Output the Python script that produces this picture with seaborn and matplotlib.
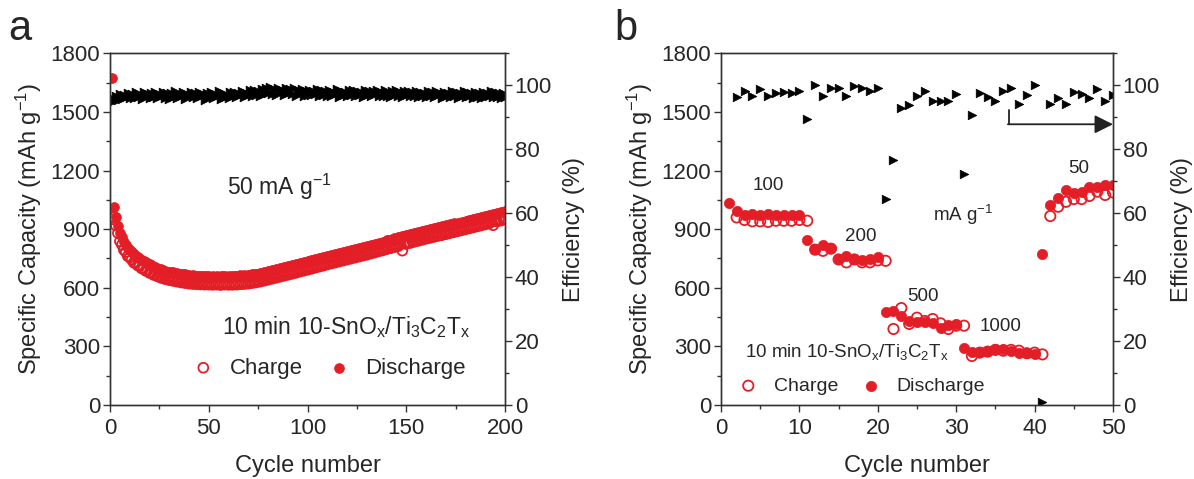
import numpy as np
import pandas as pd
import matplotlib
matplotlib.use("Agg")
import matplotlib.pyplot as plt
from matplotlib.ticker import MultipleLocator
import seaborn as sns

sns.set_style("ticks")
plt.rcParams['font.family'] = ['Liberation Sans', 'DejaVu Sans']
plt.rcParams['mathtext.fontset'] = 'custom'
plt.rcParams['mathtext.rm'] = 'Liberation Sans'
plt.rcParams['mathtext.it'] = 'Liberation Sans'

RED = "#E41E26"

# ---------------- Panel a data (cycles 1..200) ----------------
cycles_a = list(range(1, 201))
discharge_a = [
    1672, 1012, 962, 918, 881, 858, 836, 821, 804, 793,
    781, 774, 763, 758, 748, 743, 735, 731, 723, 720,
    713, 710, 704, 702, 696, 694, 689, 688, 683, 683,
    679, 679, 675, 675, 671, 671, 668, 668, 665, 665,
    662, 664, 660, 662, 659, 661, 658, 660, 658, 661,
    657, 660, 657, 661, 656, 660, 658, 662, 657, 660,
    657, 661, 658, 662, 659, 663, 661, 664, 662, 666,
    665, 669, 668, 672, 671, 676, 676, 681, 681, 686,
    686, 691, 691, 696, 696, 701, 701, 706, 706, 711,
    711, 716, 716, 721, 721, 727, 726, 732, 731, 737,
    737, 742, 742, 748, 747, 753, 753, 758, 758, 764,
    763, 769, 768, 774, 773, 779, 778, 784, 783, 789,
    788, 794, 793, 799, 798, 804, 803, 809, 808, 814,
    814, 820, 819, 825, 825, 831, 831, 836, 836, 842,
    842, 847, 847, 853, 852, 858, 858, 863, 863, 869,
    869, 874, 874, 880, 879, 885, 885, 890, 890, 896,
    895, 900, 900, 905, 904, 910, 909, 914, 914, 919,
    918, 924, 923, 929, 928, 934, 933, 939, 938, 944,
    943, 949, 948, 954, 953, 959, 958, 964, 963, 969,
    968, 974, 973, 979, 978, 984, 983, 989, 988, 994,
]
charge_a = [
    950, 962, 918, 880, 838, 820, 794, 783, 762, 755,
    744, 729, 727, 714, 712, 699, 699, 687, 688, 676,
    677, 666, 668, 658, 660, 650, 653, 644, 647, 639,
    643, 635, 639, 631, 635, 627, 632, 624, 629, 621,
    626, 619, 624, 618, 623, 617, 622, 616, 622, 616,
    621, 615, 622, 616, 620, 614, 621, 616, 620, 615,
    621, 615, 622, 616, 623, 618, 625, 619, 626, 621,
    629, 624, 632, 627, 635, 631, 640, 636, 645, 641,
    650, 646, 655, 651, 660, 656, 665, 661, 670, 666,
    675, 671, 680, 676, 685, 682, 690, 687, 695, 692,
    701, 697, 706, 703, 711, 708, 717, 713, 722, 719,
    727, 724, 732, 729, 737, 734, 742, 739, 747, 744,
    752, 749, 757, 754, 762, 759, 767, 764, 772, 769,
    778, 775, 783, 780, 789, 786, 795, 791, 800, 797,
    806, 802, 811, 808, 816, 813, 822, 790, 827, 824,
    833, 829, 838, 835, 843, 840, 849, 845, 854, 851,
    859, 855, 864, 860, 868, 865, 873, 869, 878, 874,
    882, 879, 887, 884, 892, 889, 897, 894, 902, 899,
    907, 904, 912, 909, 917, 914, 922, 919, 927, 924,
    932, 929, 937, 920, 942, 939, 947, 944, 952, 949,
]
efficiency_a = [
    94.8, 95.6, 96.8, 95.4, 97.2, 95.8, 97.0, 96.2, 97.6, 96.0,
    97.4, 95.9, 97.8, 96.3, 97.1, 95.7, 97.9, 96.5, 97.3, 96.0,
    97.7, 96.4, 98.0, 95.9, 97.2, 96.6, 97.8, 96.1, 97.5, 95.8,
    97.6, 96.3, 98.1, 96.0, 97.4, 96.8, 97.9, 95.6, 97.3, 96.5,
    97.8, 96.2, 97.5, 95.9, 98.0, 96.6, 97.2, 95.5, 97.7, 96.4,
    97.9, 96.1, 97.4, 96.7, 98.2, 95.8, 97.6, 96.3, 97.1, 96.0,
    97.8, 96.5, 98.0, 96.2, 97.5, 96.9, 98.3, 96.4, 97.7, 97.0,
    98.4, 96.8, 98.6, 97.1, 98.2, 96.5, 98.9, 97.3, 99.1, 97.6,
    99.4, 97.4, 98.8, 97.0, 99.2, 97.8, 98.6, 96.9, 99.0, 97.5,
    98.7, 97.2, 99.1, 96.8, 98.5, 97.6, 98.9, 96.7, 98.3, 97.1,
    98.6, 96.9, 98.2, 97.3, 98.8, 96.5, 98.4, 97.0, 98.1, 96.6,
    98.5, 96.8, 98.0, 97.2, 98.7, 96.4, 98.3, 96.9, 97.9, 96.7,
    98.4, 97.1, 98.6, 96.6, 98.2, 97.0, 97.8, 96.3, 98.5, 96.9,
    98.1, 96.7, 98.3, 97.2, 98.6, 96.5, 98.0, 96.8, 98.4, 96.6,
    97.9, 96.4, 98.2, 97.0, 98.5, 96.7, 97.8, 96.2, 98.1, 96.9,
    98.3, 96.5, 97.9, 96.8, 98.2, 96.3, 98.0, 96.7, 97.7, 96.4,
    98.1, 96.6, 97.8, 96.2, 98.3, 96.9, 97.6, 96.1, 98.0, 96.5,
    97.7, 96.3, 98.1, 96.7, 97.9, 96.0, 97.6, 96.5, 98.2, 96.2,
    97.8, 96.6, 97.5, 96.1, 98.0, 96.4, 97.7, 96.0, 97.9, 96.3,
    97.6, 96.5, 98.1, 96.2, 97.8, 96.4, 97.5, 96.0, 97.7, 96.3,
]

# ---------------- Panel b data (cycles 1..50) ----------------
cycles_b = list(range(1, 51))
discharge_b = [
    1035, 994, 974, 979, 971, 976, 974, 974, 974, 974,
    844, 798, 819, 803, 747, 762, 747, 742, 747, 756,
    476, 483, 457, 430, 426, 423, 418, 392, 409, 413,
    293, 273, 273, 278, 285, 285, 278, 265, 265, 259,
    773, 1024, 1058, 1100, 1083, 1088, 1117, 1117, 1126, 1126,
]
charge_b = [
    np.nan, 960, 947, 940, 940, 937, 943, 943, 943, 947,
    943, 795, 789, 800, 745, 730, 745, 730, 730, 740,
    738, 389, 496, 415, 447, 430, 440, 418, 389, 406,
    406, 251, 268, 273, 282, 278, 282, 278, 265, 268,
    259, 967, 1015, 1040, 1054, 1054, 1070, 1092, 1075, 1088,
]
efficiency_b = [
    np.nan, 96.2, 98.3, 96.5, 98.7, 96.7, 97.6, 97.9, 97.5, 98.3,
    89.5, 100.0, 96.5, 99.2, 99.2, 96.8, 99.7, 99.0, 98.1, 99.0,
    64.5, 76.7, 92.9, 93.7, 96.6, 98.3, 95.0, 95.0, 95.0, 97.3,
    72.3, 90.8, 97.6, 96.2, 95.0, 98.3, 99.2, 94.0, 96.9, 100.0,
    1.0, 94.2, 96.0, 94.2, 97.9, 97.3, 96.0, 98.7, 95.2, 96.9,
]

rate_labels = ["100", "200", "500", "1000", "50"]
rate_label_pos = [(6.0, 1121), (17.8, 861), (25.8, 554), (35.6, 401), (45.6, 1211)]

df_a = pd.DataFrame({"cycle": cycles_a, "discharge": discharge_a,
                     "charge": charge_a, "eff": efficiency_a})
df_b = pd.DataFrame({"cycle": cycles_b, "discharge": discharge_b,
                     "charge": charge_b, "eff": efficiency_b})

FS_TICK = 16
FS_LAB = 17
FS_TXT = 16.5
FS_LEG = 16
FS_TXT_B = 13.5
FS_LEG_B = 14

fig = plt.figure(figsize=(11.94, 4.79), dpi=100)
ax_a = fig.add_axes([110/1194, 74/479, 395/1194, 351.7/479])
ax_b = fig.add_axes([721/1194, 74/479, 392/1194, 351.7/479])


def style_axes(ax, ax2, xmax, xmaj, xmin):
    ax.set_xlim(0, xmax)
    ax.set_ylim(0, 1800)
    ax2.set_ylim(0, 110)
    ax.xaxis.set_major_locator(MultipleLocator(xmaj))
    ax.xaxis.set_minor_locator(MultipleLocator(xmin))
    ax.yaxis.set_major_locator(MultipleLocator(300))
    ax.yaxis.set_minor_locator(MultipleLocator(150))
    ax2.yaxis.set_major_locator(MultipleLocator(20))
    ax2.yaxis.set_minor_locator(MultipleLocator(10))
    for a in (ax, ax2):
        for sp in a.spines.values():
            sp.set_visible(True)
            sp.set_color("#333333")
            sp.set_linewidth(1.0)
        a.tick_params(which="major", direction="out", length=5, width=1,
                      labelsize=FS_TICK, color="#333333", pad=2)
        a.tick_params(which="minor", direction="out", length=3, width=1,
                      color="#333333")
    ax.tick_params(axis="x", top=False, which="both", pad=4)
    ax.set_xlabel("Cycle number", fontsize=FS_LAB, labelpad=12)
    ax.set_ylabel("Specific Capacity (mAh g$^{-1}$)", fontsize=FS_LAB, labelpad=5)
    ax2.set_ylabel("Efficiency (%)", fontsize=FS_LAB, labelpad=8)


def draw_panel(ax, df, xmax, xmaj, xmin, cs, ts):
    ax2 = ax.twinx()
    sns.scatterplot(data=df, x="cycle", y="eff", marker=">", s=ts,
                    color="black", edgecolor="black", linewidth=0.5, ax=ax2,
                    legend=False)
    sns.scatterplot(data=df, x="cycle", y="charge", marker="o", s=cs,
                    facecolor="none", edgecolor=RED, linewidth=1.3, ax=ax,
                    label="Charge")
    sns.scatterplot(data=df, x="cycle", y="discharge", marker="o", s=cs,
                    color=RED, edgecolor=RED, linewidth=0.5, ax=ax,
                    label="Discharge")
    style_axes(ax, ax2, xmax, xmaj, xmin)
    ax.set_zorder(ax2.get_zorder() + 1)
    ax.patch.set_visible(False)
    return ax2


ax2_a = draw_panel(ax_a, df_a, 200, 50, 25, 50, 40)
ax2_b = draw_panel(ax_b, df_b, 50, 10, 5, 55, 38)

material = "10 min 10-SnO$_x$/Ti$_3$C$_2$T$_x$"

# Panel a annotations
ax_a.text(59.2, 1117, "50 mA g$^{-1}$", fontsize=FS_TXT, va="center", ha="left")
ax_a.text(56.7, 401, material, fontsize=FS_TXT, va="center", ha="left")
ax_a.legend(loc="center left", bbox_to_anchor=(0.18, 0.105), ncol=2,
            frameon=False, fontsize=FS_LEG, handletextpad=0.6, columnspacing=1.0,
            borderaxespad=0, handlelength=1.2)

# Panel b annotations
for lab, (xx, yy) in zip(rate_labels, rate_label_pos):
    ax_b.text(xx, yy, lab, fontsize=FS_TXT_B, ha="center", va="center")
ax_b.text(30.9, 972, "mA g$^{-1}$", fontsize=FS_TXT_B, ha="center", va="center")
ax_b.text(3.1, 273, material, fontsize=FS_TXT_B, va="center", ha="left")
ax_b.legend(loc="center left", bbox_to_anchor=(0.02, 0.054), ncol=2,
            frameon=False, fontsize=FS_LEG_B, handletextpad=0.7, columnspacing=1.1,
            borderaxespad=0, handlelength=1.2)

# bent arrow pointing to efficiency axis
arrow_x0, arrow_ytop, arrow_y = 36.7, 92.2, 87.8
ax2_b.plot([arrow_x0, arrow_x0], [arrow_ytop, arrow_y], color="#222222", lw=1.3)
ax2_b.annotate("", xy=(50, arrow_y), xytext=(arrow_x0 - 0.1, arrow_y),
               arrowprops=dict(arrowstyle="-|>", color="#222222", lw=1.3,
                               mutation_scale=28, shrinkA=0, shrinkB=0),
               annotation_clip=False)

fig.text(8/1194, 1 - 40/479, "a", fontsize=30, ha="left", va="baseline")
fig.text(614/1194, 1 - 40/479, "b", fontsize=30, ha="left", va="baseline")

fig.savefig("out.png", dpi=100)
